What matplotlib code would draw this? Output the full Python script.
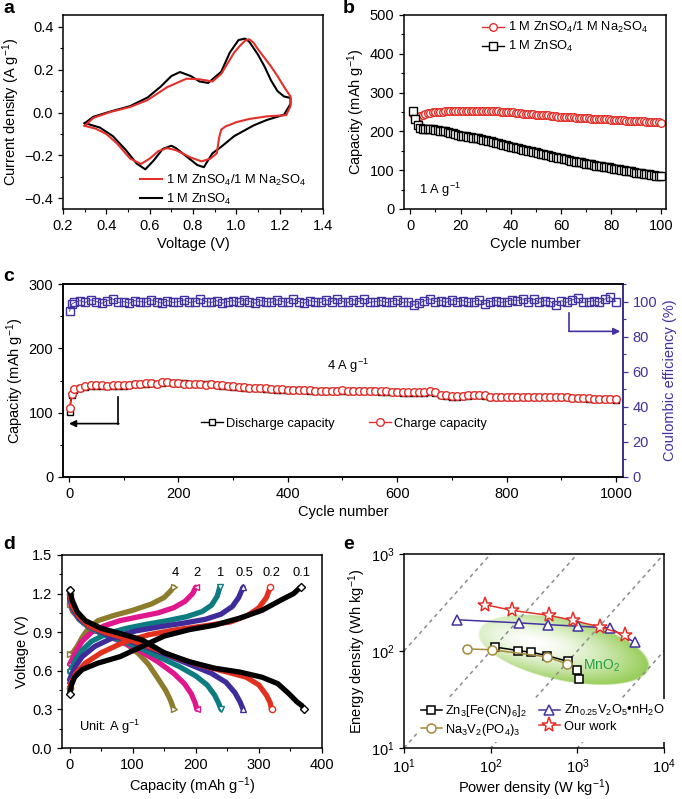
import numpy as np
import matplotlib
matplotlib.use("Agg")
import matplotlib.pyplot as plt
from matplotlib.ticker import MultipleLocator

plt.rcParams['font.family'] = ['Liberation Sans', 'DejaVu Sans']
plt.rcParams['mathtext.fontset'] = 'custom'
plt.rcParams['mathtext.rm'] = 'Liberation Sans'
plt.rcParams['mathtext.it'] = 'Liberation Sans:italic'
plt.rcParams['mathtext.bf'] = 'Liberation Sans:bold'
plt.rcParams['font.size'] = 10.5
plt.rcParams['axes.linewidth'] = 1.1

RED = '#e3302a'
BLUE = '#4232a0'
LEG_FS = 9.3

# ---------------- panel a: CV curves ----------------
cv_v_zn = [0.30, 0.34, 0.42, 0.51, 0.59, 0.65, 0.70, 0.74, 0.79, 0.83, 0.87, 0.93, 0.97, 1.01,
           1.04, 1.06, 1.10, 1.13, 1.16, 1.19, 1.22, 1.25, 1.25, 1.22, 1.14, 1.08, 0.99, 0.93,
           0.89, 0.87, 0.85, 0.82, 0.77, 0.72, 0.70, 0.66, 0.62, 0.58, 0.54, 0.49, 0.43, 0.37,
           0.31, 0.30]
cv_i_zn = [-0.050, -0.020, 0.005, 0.030, 0.070, 0.120, 0.170, 0.189, 0.170, 0.145, 0.138, 0.190,
           0.280, 0.338, 0.345, 0.330, 0.270, 0.215, 0.150, 0.100, 0.075, 0.068, 0.040, -0.010,
           -0.035, -0.060, -0.110, -0.160, -0.190, -0.222, -0.255, -0.245, -0.205, -0.165,
           -0.155, -0.170, -0.222, -0.265, -0.238, -0.175, -0.110, -0.070, -0.052, -0.050]
cv_v_na = [0.30, 0.34, 0.42, 0.51, 0.59, 0.68, 0.77, 0.83, 0.89, 0.93, 0.96, 0.99, 1.02, 1.04,
           1.06, 1.08, 1.10, 1.13, 1.16, 1.19, 1.22, 1.25, 1.25, 1.23, 1.14, 1.06, 1.00, 0.95,
           0.93, 0.92, 0.91, 0.88, 0.84, 0.79, 0.72, 0.68, 0.64, 0.60, 0.56, 0.51, 0.45, 0.40,
           0.35, 0.30]
cv_i_na = [-0.062, -0.025, 0.003, 0.026, 0.058, 0.118, 0.158, 0.155, 0.145, 0.180, 0.230, 0.280,
           0.315, 0.335, 0.342, 0.325, 0.295, 0.255, 0.215, 0.170, 0.120, 0.075, 0.030, -0.012,
           -0.018, -0.030, -0.045, -0.065, -0.080, -0.120, -0.190, -0.215, -0.228, -0.210,
           -0.175, -0.166, -0.180, -0.215, -0.240, -0.215, -0.145, -0.100, -0.075, -0.062]

# ---------------- panel b: cycling at 1 A/g ----------------
cycles_b = list(range(1, 101))
cap_b_na = [245, 240, 238, 240, 243, 245, 247, 248, 249, 250,
            250, 251, 251, 252, 252, 252, 252, 252, 253, 252,
            252, 252, 252, 252, 252, 252, 253, 253, 253, 253,
            253, 253, 253, 252, 252, 251, 251, 250, 250, 249,
            249, 248, 248, 247, 246, 245, 245, 244, 244, 243,
            243, 242, 242, 241, 241, 240, 240, 239, 238, 238,
            237, 237, 236, 236, 236, 235, 235, 235, 234, 234,
            234, 233, 233, 233, 232, 232, 232, 231, 231, 230,
            230, 230, 229, 229, 229, 228, 228, 228, 227, 227,
            226, 226, 226, 225, 225, 224, 224, 224, 223, 222]
cap_b_zn = [253, 232, 217, 208, 207, 206, 206, 205, 205, 204,
            203, 202, 201, 200, 199, 197, 195, 193, 191, 189,
            188, 187, 186, 185, 184, 183, 182, 180, 179, 178,
            176, 175, 173, 171, 169, 168, 166, 164, 163, 161,
            159, 158, 156, 155, 153, 152, 150, 149, 147, 146,
            144, 143, 141, 140, 138, 137, 135, 134, 132, 131,
            129, 128, 126, 125, 124, 122, 121, 120, 118, 117,
            116, 115, 113, 112, 111, 110, 109, 108, 107, 105,
            104, 103, 102, 101, 100, 99, 98, 97, 96, 94,
            93, 92, 91, 90, 89, 88, 87, 86, 85, 84]

# ---------------- panel c: long cycling at 4 A/g ----------------
cycles_c = [1, 5, 10, 20, 30, 40, 50, 60, 70, 80, 90] + list(range(100, 1001, 10))
charge_c = [108, 129, 137, 139, 141, 143, 143, 143, 142, 143, 143,
            143, 143, 144, 145, 146, 146, 145, 147, 147, 146,
            146, 145, 145, 144, 144, 143, 144, 143, 143, 141,
            141, 140, 140, 139, 139, 138, 138, 137, 137, 137,
            136, 136, 136, 136, 135, 134, 134, 134, 134, 134,
            135, 134, 134, 134, 134, 134, 133, 133, 133, 132,
            132, 132, 132, 132, 132, 132, 133, 132, 128, 127,
            126, 126, 126, 127, 128, 128, 127, 125, 125, 125,
            124, 124, 125, 125, 125, 125, 125, 125, 125, 125,
            124, 124, 123, 123, 123, 123, 122, 122, 121, 121,
            121]
discharge_c = [101, 128, 136, 139, 140, 142, 142, 142, 142, 142, 142,
               142, 143, 144, 145, 145, 146, 145, 146, 147, 146,
               146, 146, 145, 145, 144, 144, 144, 143, 142, 141,
               140, 140, 139, 139, 138, 138, 137, 137, 136, 136,
               136, 135, 135, 135, 134, 134, 134, 133, 133, 134,
               134, 134, 134, 133, 133, 133, 133, 132, 132, 132,
               132, 131, 131, 131, 131, 131, 132, 131, 127, 126,
               125, 125, 126, 126, 127, 127, 126, 124, 124, 124,
               124, 124, 124, 124, 124, 124, 125, 125, 124, 124,
               124, 124, 123, 123, 123, 122, 122, 122, 121, 121,
               120]
ce_c = [94.5, 98.5, 99.5, 100.5, 99.5, 101.0, 100.0, 99.0, 100.5, 101.5, 99.5,
        100.0, 99.0, 100.5, 100.0, 99.5, 101.0, 100.0, 99.0, 100.5, 99.5,
        100.0, 101.0, 99.5, 100.0, 101.5, 100.0, 99.5, 100.5, 99.0, 100.0,
        100.5, 99.5, 101.0, 100.0, 99.0, 100.5, 100.0, 99.5, 101.0, 100.0,
        99.5, 101.5, 100.0, 99.0, 100.5, 100.0, 99.5, 101.0, 100.0, 101.5,
        100.0, 99.5, 101.0, 100.0, 101.5, 99.5, 100.0, 100.5, 99.5, 100.0,
        101.0, 99.5, 100.0, 98.0, 99.0, 100.5, 101.5, 100.0, 100.5, 99.5,
        101.0, 100.0, 100.5, 99.5, 100.0, 101.0, 98.5, 100.0, 100.5, 99.5,
        100.0, 101.0, 100.5, 101.5, 100.0, 101.5, 99.5, 100.5, 100.0, 98.0,
        100.5, 99.5, 101.0, 102.0, 99.5, 100.0, 100.5, 99.5, 101.5, 102.5,
        100.0]

# ---------------- panel d: charge/discharge profiles ----------------
rates_d = ['4', '2', '1', '0.5', '0.2', '0.1']
colors_d = ['#8c7c2c', '#e0168c', '#0c7c80', '#3f2c9a', '#e2301f', '#000000']
markers_d = ['>', '<', 'v', '^', 'o', 'D']

dis_cap_4 = [0, 5, 15, 30, 50, 70, 90, 110, 125, 140, 152, 160, 165]
dis_v_4 = [1.12, 1.06, 1.01, 0.96, 0.92, 0.87, 0.81, 0.73, 0.65, 0.54, 0.45, 0.37, 0.30]
chg_cap_4 = [0, 5, 12, 20, 30, 45, 70, 100, 130, 150, 160, 165]
chg_v_4 = [0.73, 0.74, 0.79, 0.86, 0.93, 0.99, 1.03, 1.07, 1.12, 1.17, 1.22, 1.25]

dis_cap_2 = [0, 5, 15, 30, 50, 80, 110, 140, 165, 182, 193, 199, 202]
dis_v_2 = [1.15, 1.07, 1.00, 0.94, 0.89, 0.83, 0.76, 0.67, 0.58, 0.50, 0.42, 0.35, 0.30]
chg_cap_2 = [0, 4, 10, 20, 35, 55, 80, 110, 140, 165, 183, 195, 200]
chg_v_2 = [0.65, 0.69, 0.75, 0.83, 0.90, 0.95, 0.99, 1.02, 1.05, 1.09, 1.14, 1.20, 1.25]

dis_cap_1 = [0, 5, 15, 30, 55, 85, 115, 145, 175, 200, 218, 230, 236, 240]
dis_v_1 = [1.17, 1.08, 1.00, 0.94, 0.88, 0.83, 0.77, 0.70, 0.63, 0.56, 0.49, 0.41, 0.35, 0.30]
chg_cap_1 = [0, 4, 10, 20, 35, 60, 90, 120, 155, 185, 210, 225, 234, 238]
chg_v_1 = [0.59, 0.63, 0.69, 0.76, 0.83, 0.89, 0.93, 0.96, 0.99, 1.02, 1.06, 1.11, 1.18, 1.25]

dis_cap_05 = [0, 5, 15, 30, 55, 90, 125, 160, 195, 225, 248, 262, 270, 275]
dis_v_05 = [1.18, 1.09, 1.01, 0.95, 0.89, 0.84, 0.78, 0.71, 0.64, 0.58, 0.51, 0.43, 0.36, 0.30]
chg_cap_05 = [0, 4, 10, 20, 40, 70, 105, 140, 180, 215, 240, 258, 268, 275]
chg_v_05 = [0.53, 0.58, 0.64, 0.71, 0.79, 0.86, 0.91, 0.94, 0.97, 1.00, 1.04, 1.10, 1.17, 1.25]

dis_cap_02 = [0, 5, 15, 30, 55, 90, 130, 170, 210, 250, 280, 300, 312, 318, 320]
dis_v_02 = [1.20, 1.10, 1.02, 0.95, 0.90, 0.85, 0.78, 0.70, 0.64, 0.59, 0.55, 0.49, 0.41, 0.35, 0.30]
chg_cap_02 = [0, 4, 10, 25, 50, 85, 125, 170, 215, 255, 282, 300, 312, 318]
chg_v_02 = [0.47, 0.52, 0.58, 0.66, 0.74, 0.82, 0.88, 0.92, 0.95, 0.98, 1.03, 1.09, 1.17, 1.25]

dis_cap_01 = [0, 4, 12, 25, 50, 80, 115, 150, 190, 230, 270, 305, 330, 348, 360, 368, 372]
dis_v_01 = [1.23, 1.15, 1.06, 0.99, 0.93, 0.89, 0.84, 0.74, 0.67, 0.62, 0.59, 0.55, 0.50, 0.42, 0.36, 0.33, 0.30]
chg_cap_01 = [0, 3, 8, 20, 45, 80, 115, 150, 190, 230, 270, 305, 335, 355, 366]
chg_v_01 = [0.42, 0.49, 0.55, 0.61, 0.66, 0.71, 0.79, 0.87, 0.92, 0.955, 1.01, 1.07, 1.15, 1.20, 1.25]

# ---------------- panel e: Ragone plot ----------------
p_fe = [111, 208, 294, 451, 780, 981, 1036]
e_fe = [110, 101, 97, 89.5, 78, 64, 51]
p_nvp = [53, 104, 443, 753]
e_nvp = [105, 103, 87, 74]
p_zvo = [40.5, 212, 459, 1018, 2383, 4571]
e_zvo = [210, 195, 187, 180, 173, 123]
p_ours = [85, 178, 471, 891, 1811, 3548]
e_ours = [301, 262, 233, 207, 177, 147]
iso_hours = [10, 1, 0.1, 0.01]


def style_axes(ax):
    ax.tick_params(which='major', direction='out', length=3.5, width=0.9,
                   labelsize=10.5, top=False, right=False)
    ax.tick_params(which='minor', direction='out', length=2.0, width=0.8,
                   top=False, right=False)


fig = plt.figure(figsize=(6.82, 7.99), dpi=100)
W, H = 682, 799


def px_axes(l, t, r, b):
    return fig.add_axes([l / W, 1 - b / H, (r - l) / W, (b - t) / H])


# ---- a ----
ax_a = px_axes(63, 15, 323, 209)
la_zn, = ax_a.plot(cv_v_zn, cv_i_zn, color='k', lw=1.5)
la_na, = ax_a.plot(cv_v_na, cv_i_na, color=RED, lw=1.5)
ax_a.set_xlim(0.2, 1.4)
ax_a.set_ylim(-0.45, 0.455)
ax_a.xaxis.set_major_locator(MultipleLocator(0.2))
ax_a.xaxis.set_minor_locator(MultipleLocator(0.1))
ax_a.yaxis.set_major_locator(MultipleLocator(0.2))
ax_a.yaxis.set_minor_locator(MultipleLocator(0.1))
ax_a.xaxis.set_major_formatter(plt.FormatStrFormatter('%.1f'))
ax_a.yaxis.set_major_formatter(plt.FuncFormatter(
    lambda v, p: ('%.1f' % v).replace('-', '\u2212') if abs(v) > 1e-9 else '0.0'))
ax_a.set_xlabel('Voltage (V)', fontsize=10.5, labelpad=3)
ax_a.set_ylabel('Current density (A g$^{-1}$)', fontsize=10.5, labelpad=2)
ax_a.legend([la_na, la_zn], ['1 M ZnSO$_4$/1 M Na$_2$SO$_4$', '1 M ZnSO$_4$'],
            loc='lower right', frameon=False, fontsize=LEG_FS, handlelength=1.7,
            handletextpad=0.3, labelspacing=0.3, borderaxespad=0.0,
            bbox_to_anchor=(0.955, -0.015))
style_axes(ax_a)

# ---- b ----
ax_b = px_axes(404, 15, 666, 209)
lb_na, = ax_b.plot(cycles_b, cap_b_na, color=RED, lw=1.0, marker='o', ms=5.5,
                   mfc='white', mec=RED, mew=1.0)
lb_zn, = ax_b.plot(cycles_b, cap_b_zn, color='k', lw=1.0, marker='s', ms=5.5,
                   mfc='white', mec='k', mew=1.0)
ax_b.set_xlim(-2.5, 101.8)
ax_b.set_ylim(0, 500)
ax_b.xaxis.set_major_locator(MultipleLocator(20))
ax_b.xaxis.set_minor_locator(MultipleLocator(10))
ax_b.yaxis.set_major_locator(MultipleLocator(100))
ax_b.yaxis.set_minor_locator(MultipleLocator(50))
ax_b.set_xlabel('Cycle number', fontsize=10.5, labelpad=3)
ax_b.set_ylabel('Capacity (mAh g$^{-1}$)', fontsize=10.5, labelpad=2)
ax_b.legend([lb_na, lb_zn], ['1 M ZnSO$_4$/1 M Na$_2$SO$_4$', '1 M ZnSO$_4$'],
            loc='upper right', frameon=False, fontsize=LEG_FS, handlelength=1.7,
            handletextpad=0.3, labelspacing=0.3, borderaxespad=0.0,
            bbox_to_anchor=(0.95, 1.0))
ax_b.text(3.5, 49, '1 A g$^{-1}$', fontsize=LEG_FS, va='center', ha='left')
style_axes(ax_b)

# ---- c ----
ax_c = px_axes(63, 284, 623, 477)
ax_c2 = ax_c.twinx()
ax_c2.plot(cycles_c, ce_c, color=BLUE, lw=0.6, marker='s', ms=5.5, mfc='none',
           mec=BLUE, mew=1.0)
lc_dis, = ax_c.plot(cycles_c, discharge_c, color='k', lw=1.0, marker='s', ms=5,
                    mfc='white', mec='k', mew=1.0)
lc_chg, = ax_c.plot(cycles_c, charge_c, color=RED, lw=1.0, marker='o', ms=5.5,
                    mfc='white', mec=RED, mew=1.0)
ax_c.set_xlim(-11, 1013)
ax_c.set_ylim(0, 300)
ax_c2.set_ylim(0, 110)
ax_c.xaxis.set_major_locator(MultipleLocator(200))
ax_c.xaxis.set_minor_locator(MultipleLocator(100))
ax_c.yaxis.set_major_locator(MultipleLocator(100))
ax_c.yaxis.set_minor_locator(MultipleLocator(50))
ax_c2.yaxis.set_major_locator(MultipleLocator(20))
ax_c2.yaxis.set_minor_locator(MultipleLocator(10))
ax_c.set_xlabel('Cycle number', fontsize=10.5, labelpad=3)
ax_c.set_ylabel('Capacity (mAh g$^{-1}$)', fontsize=10.5, labelpad=2)
ax_c2.set_ylabel('Coulombic efficiency (%)', fontsize=10.5, color=BLUE, labelpad=4)
style_axes(ax_c)
ax_c2.tick_params(which='major', direction='out', length=3.5, width=0.9, labelsize=10.5,
                  colors=BLUE, left=False, right=True)
ax_c2.tick_params(which='minor', direction='out', length=2.0, width=0.8, colors=BLUE,
                  left=False, right=True)
ax_c2.spines['right'].set_color(BLUE)
ax_c.text(510, 172, '4 A g$^{-1}$', fontsize=LEG_FS, ha='center', va='center')
ax_c.legend([lc_dis, lc_chg], ['Discharge capacity', 'Charge capacity'], ncol=2,
            loc='center left', bbox_to_anchor=(0.225, 0.275), frameon=False, fontsize=LEG_FS,
            handlelength=1.7, handletextpad=0.3, columnspacing=2.6)
# arrows pointing to the axes
ax_c.plot([90, 90], [125, 83], color='k', lw=1.2)
ax_c.annotate('', xy=(0, 83), xytext=(91, 83),
              arrowprops=dict(arrowstyle='-|>', color='k', lw=1.2, mutation_scale=10,
                              shrinkA=0, shrinkB=0))
ax_c2.plot([915, 915], [93.5, 83], color=BLUE, lw=1.2)
ax_c2.annotate('', xy=(1008, 83), xytext=(914, 83),
               arrowprops=dict(arrowstyle='-|>', color=BLUE, lw=1.2, mutation_scale=10,
                               shrinkA=0, shrinkB=0))

# ---- d ----
ax_d = px_axes(62, 555, 322, 748)
curves_d = [(dis_cap_4, dis_v_4, chg_cap_4, chg_v_4),
            (dis_cap_2, dis_v_2, chg_cap_2, chg_v_2),
            (dis_cap_1, dis_v_1, chg_cap_1, chg_v_1),
            (dis_cap_05, dis_v_05, chg_cap_05, chg_v_05),
            (dis_cap_02, dis_v_02, chg_cap_02, chg_v_02),
            (dis_cap_01, dis_v_01, chg_cap_01, chg_v_01)]
for (dc, dv, cc, cv), col, mk, rate in zip(curves_d, colors_d, markers_d, rates_d):
    for xs, ys in ((cc, cv), (dc, dv)):
        ax_d.plot(xs, ys, color=col, lw=3.8, solid_capstyle='round')
        ax_d.plot(xs, ys, ls='none', marker=mk, ms=4.5, mfc='white', mec=col, mew=1.0,
                  markevery=[0, len(xs) - 1])
    ax_d.text(cc[-1] + 2, 1.36, rate, fontsize=LEG_FS, ha='center', va='center')
ax_d.set_xlim(-12, 400)
ax_d.set_ylim(0, 1.5)
ax_d.xaxis.set_major_locator(MultipleLocator(100))
ax_d.xaxis.set_minor_locator(MultipleLocator(50))
ax_d.yaxis.set_major_locator(MultipleLocator(0.3))
ax_d.yaxis.set_minor_locator(MultipleLocator(0.15))
ax_d.yaxis.set_major_formatter(plt.FormatStrFormatter('%.1f'))
ax_d.set_xlabel('Capacity (mAh g$^{-1}$)', fontsize=10.5, labelpad=3)
ax_d.set_ylabel('Voltage (V)', fontsize=10.5, labelpad=2)
ax_d.text(15, 0.165, 'Unit: A g$^{-1}$', fontsize=LEG_FS, ha='left', va='center')
style_axes(ax_d)

# ---- e ----
ax_e = px_axes(404, 554, 664, 748)
ax_e.set_xscale('log')
ax_e.set_yscale('log')
ax_e.set_xlim(10, 1e4)
ax_e.set_ylim(10, 1e3)

# green MnO2 region with radial shading
bb = ax_e.get_position()
aw = int(round(bb.width * W)) * 3
ah = int(round(bb.height * H)) * 3
cu, cv_ = ax_e.transAxes.inverted().transform(ax_e.transData.transform((700, 103)))
gx, gy = np.meshgrid((np.arange(aw) + 0.5) / 3, (np.arange(ah) + 0.5) / 3)
dx = gx - cu * aw / 3
dy = gy - cv_ * ah / 3
th = np.deg2rad(-12)
xr = dx * np.cos(th) + dy * np.sin(th)
yr = -dx * np.sin(th) + dy * np.cos(th)
a_px, b_px = 88.0, 31.0
r = np.sqrt((xr / a_px) ** 2 + (yr / b_px) ** 2)
rh = np.sqrt(((xr + 0.35 * a_px) / (1.3 * a_px)) ** 2 + ((yr - 0.05 * b_px) / (1.15 * b_px)) ** 2)
t = np.clip(rh, 0, 1) ** 1.5
green = np.array([0.60, 0.81, 0.36])
img = np.ones((ah, aw, 4))
for k in range(3):
    img[..., k] = 1 * (1 - t) + green[k] * t
img[..., 3] = np.clip((1 - r) * b_px, 0, 1)
ax_e.imshow(img, extent=[0, 1, 0, 1], transform=ax_e.transAxes, origin='lower',
            aspect='auto', zorder=0, interpolation='bilinear')
ax_e.set_xlim(10, 1e4)
ax_e.set_ylim(10, 1e3)

for hrs in iso_hours:
    ax_e.plot([10, 1e4], [10 * hrs, 1e4 * hrs], color='#8c8c8c', lw=1.1, ls=(0, (2.5, 2.5)),
              zorder=1)
ax_e.text(1900, 70, 'MnO$_2$', color='#22a045', fontsize=10, ha='center', va='center', zorder=2)

le_fe, = ax_e.plot(p_fe, e_fe, color='k', lw=1.1, marker='s', ms=6, mfc='white', mec='k',
                   mew=1.1, zorder=3)
le_nvp, = ax_e.plot(p_nvp, e_nvp, color='#a38a3a', lw=1.1, marker='o', ms=6.5, mfc='white',
                    mec='#a38a3a', mew=1.1, zorder=3)
le_zvo, = ax_e.plot(p_zvo, e_zvo, color=BLUE, lw=1.1, marker='^', ms=7.5, mfc='white',
                    mec=BLUE, mew=1.1, zorder=3)
le_ours, = ax_e.plot(p_ours, e_ours, color=RED, lw=1.1, marker='*', ms=11, mfc='white',
                     mec=RED, mew=1.1, zorder=4)
leg = ax_e.legend([le_fe, le_nvp, le_zvo, le_ours],
                  ['Zn$_3$[Fe(CN)$_6$]$_2$', 'Na$_3$V$_2$(PO$_4$)$_3$',
                   'Zn$_{0.25}$V$_2$O$_5$\u2022nH$_2$O', 'Our work'],
                  ncol=2, loc='lower left', bbox_to_anchor=(0.025, 0.0), fontsize=LEG_FS,
                  handlelength=1.6, handletextpad=0.3, columnspacing=0.9,
                  labelspacing=0.2, frameon=True, facecolor='white', edgecolor='none',
                  framealpha=1.0, borderpad=0.3)
leg.set_zorder(5)
ax_e.set_xlabel('Power density (W kg$^{-1}$)', fontsize=10.5, labelpad=1)
ax_e.set_ylabel('Energy density (Wh kg$^{-1}$)', fontsize=10.5, labelpad=2)
style_axes(ax_e)
ax_e.tick_params(which='minor', length=0)

# panel letters
for letter, x, y in [('a', 3, 0), ('b', 343, 0), ('c', 3, 268), ('d', 3, 536), ('e', 343, 536)]:
    fig.text(x / W, 1 - y / H, letter, fontsize=14, fontweight='bold', ha='left', va='top')

fig.savefig('out.png', dpi=100)
